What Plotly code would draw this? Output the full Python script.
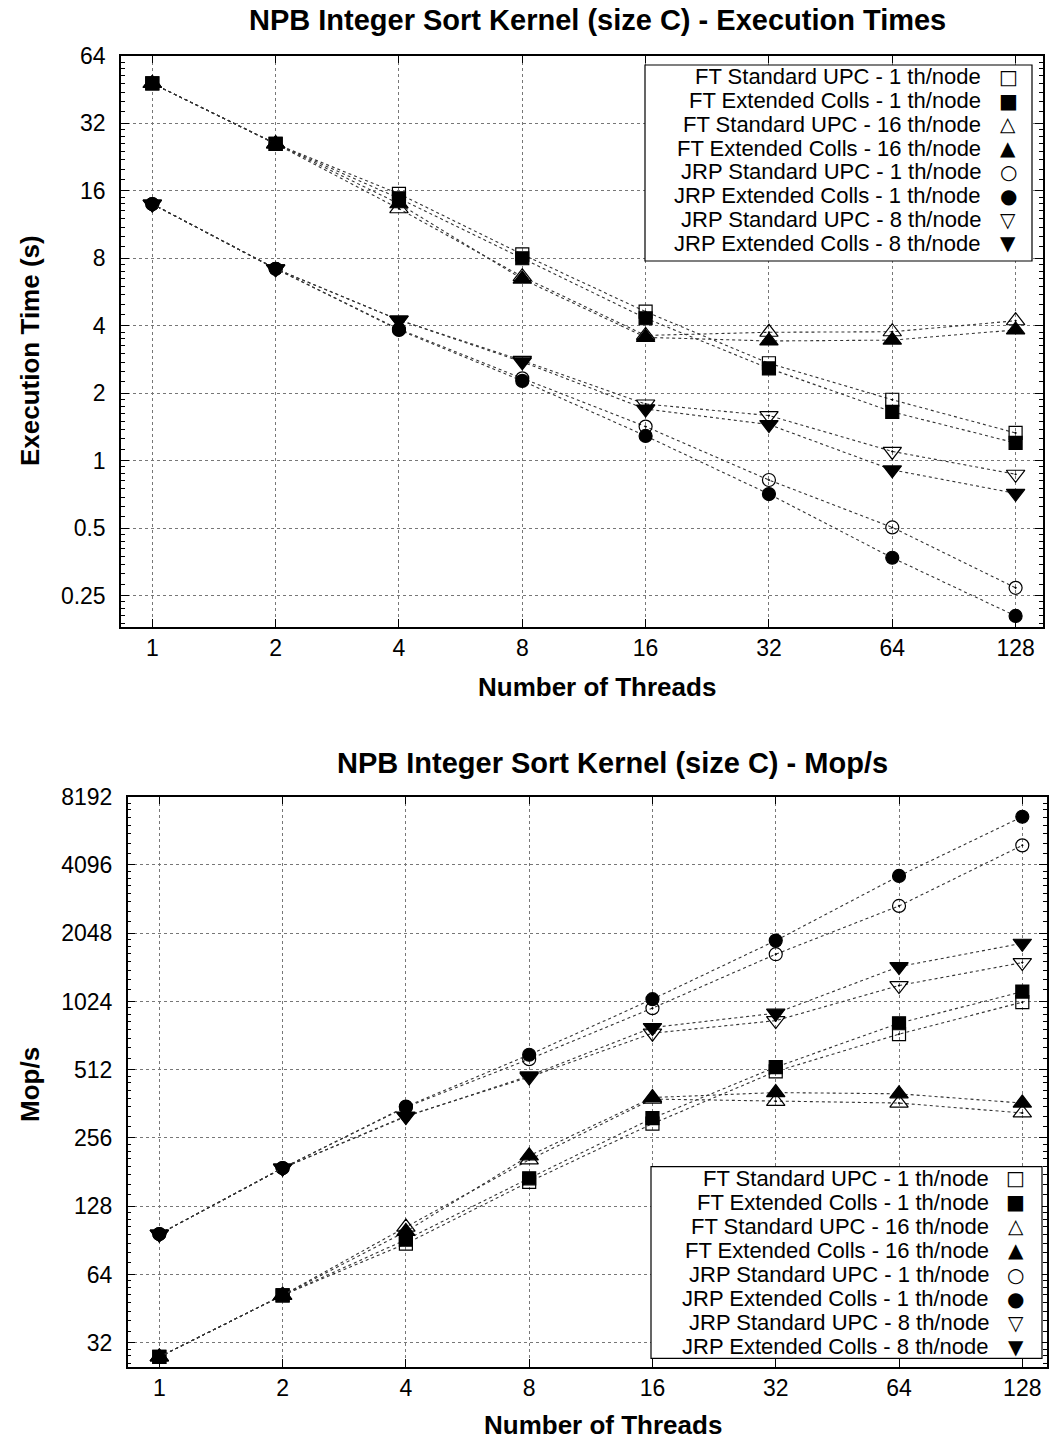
import plotly.graph_objects as go

# ---------------- data ----------------
threads = [1, 2, 4, 8, 16, 32, 64, 128]

series_names = [
    "FT Standard UPC - 1 th/node",
    "FT Extended Colls - 1 th/node",
    "FT Standard UPC - 16 th/node",
    "FT Extended Colls - 16 th/node",
    "JRP Standard UPC - 1 th/node",
    "JRP Extended Colls - 1 th/node",
    "JRP Standard UPC - 8 th/node",
    "JRP Extended Colls - 8 th/node",
]

# Execution times (s)
time_ft_std_1 = [48.2, 25.9, 15.5, 8.33, 4.62, 2.72, 1.87, 1.33]
time_ft_ext_1 = [48.2, 25.9, 14.8, 8.0, 4.32, 2.58, 1.65, 1.20]
time_ft_std_16 = [48.2, 25.9, 13.3, 6.62, 3.62, 3.74, 3.76, 4.21]
time_ft_ext_16 = [48.2, 25.9, 14.0, 6.46, 3.55, 3.42, 3.45, 3.83]
time_jrp_std_1 = [13.96, 7.18, 3.86, 2.33, 1.42, 0.82, 0.504, 0.271]
time_jrp_ext_1 = [13.96, 7.18, 3.83, 2.27, 1.29, 0.71, 0.369, 0.203]
time_jrp_std_8 = [13.96, 7.18, 4.24, 2.80, 1.79, 1.59, 1.10, 0.87]
time_jrp_ext_8 = [13.96, 7.18, 4.24, 2.76, 1.70, 1.45, 0.91, 0.715]

# Mop/s
mops_ft_std_1 = [27.7, 51.8, 87.5, 164, 296, 503, 735, 1017]
mops_ft_ext_1 = [27.7, 51.8, 91.1, 170, 313, 526, 821, 1132]
mops_ft_std_16 = [27.7, 51.8, 103.6, 205, 380, 371, 365, 330]
mops_ft_ext_16 = [27.7, 51.8, 99, 213.6, 386, 406, 401, 365]
mops_jrp_std_1 = [96.5, 188.6, 350, 570, 957, 1655, 2702, 5000]
mops_jrp_ext_1 = [96.5, 188.6, 352, 596, 1048, 1900, 3664, 6686]
mops_jrp_std_8 = [96.5, 188.6, 320, 475, 742, 843, 1204, 1520]
mops_jrp_ext_8 = [96.5, 188.6, 318, 481, 786, 909, 1459, 1850]

x_ticks = [1, 2, 4, 8, 16, 32, 64, 128]
time_ticks = [0.25, 0.5, 1, 2, 4, 8, 16, 32, 64]
time_tick_text = ["0.25", "0.5", "1", "2", "4", "8", "16", "32", "64"]
mops_ticks = [32, 64, 128, 256, 512, 1024, 2048, 4096, 8192]
mops_tick_text = ["32", "64", "128", "256", "512", "1024", "2048", "4096", "8192"]

# ---------------- styling ----------------
W, H = 1049, 1443
FONT = "Liberation Sans, Arial, Helvetica, sans-serif"
symbols = ["square-open-dot", "square", "triangle-up-open-dot", "triangle-up",
           "circle-open-dot", "circle", "triangle-down-open-dot", "triangle-down"]
sizes = [13, 13, 16, 16, 13, 13, 16, 16]
legend_glyphs = ["□", "■", "△", "▲", "○", "●", "▽", "▼"]

time_series = [time_ft_std_1, time_ft_ext_1, time_ft_std_16, time_ft_ext_16,
               time_jrp_std_1, time_jrp_ext_1, time_jrp_std_8, time_jrp_ext_8]
mops_series = [mops_ft_std_1, mops_ft_ext_1, mops_ft_std_16, mops_ft_ext_16,
               mops_jrp_std_1, mops_jrp_ext_1, mops_jrp_std_8, mops_jrp_ext_8]

fig = go.Figure()

for i, name in enumerate(series_names):
    for ys, xa, ya in ((time_series[i], "x", "y"), (mops_series[i], "x2", "y2")):
        fig.add_trace(go.Scatter(
            x=threads, y=ys, name=name, xaxis=xa, yaxis=ya, mode="lines+markers",
            showlegend=False,
            line=dict(color="#333333", width=1.1, dash="dot"),
            marker=dict(symbol=symbols[i], size=sizes[i], color="black",
                        line=dict(color="black", width=1.2)),
        ))


def minor_vals(lo_exp, hi_exp):
    vals = []
    for n in range(lo_exp, hi_exp):
        for j in range(1, 8):
            vals.append(2 ** n * (1 + j / 8))
    return vals


def fy(p):
    return 1 - p / H


def fx(p):
    return p / W


common_axis = dict(
    type="log", showline=True, linecolor="black", linewidth=1.5, mirror="ticks",
    ticks="inside", ticklen=8, tickwidth=1, tickcolor="black", automargin=False,
    showgrid=True, gridcolor="#777777", griddash="dot", gridwidth=1,
    zeroline=False, tickfont=dict(family=FONT, size=23, color="black"),
)

fig.update_layout(
    width=W, height=H, margin=dict(l=0, r=0, t=0, b=0, autoexpand=False),
    paper_bgcolor="white", plot_bgcolor="white",
    xaxis=dict(common_axis, domain=[fx(121), fx(1043)], anchor="y",
               range=[-0.0764, 2.1741], tickmode="array", tickvals=x_ticks,
               ticktext=[str(t) for t in x_ticks]),
    yaxis=dict(common_axis, domain=[fy(627), fy(55.7)], anchor="x",
               range=[-0.7418, 1.8065], tickmode="array", tickvals=time_ticks,
               ticktext=time_tick_text, ticklabelstandoff=9,
               minor=dict(tickmode="array", tickvals=minor_vals(-3, 6), ticks="inside",
                          ticklen=4, tickcolor="black", showgrid=False)),
    xaxis2=dict(common_axis, domain=[fx(127.7), fx(1047)], anchor="y2",
                range=[-0.0772, 2.1675], tickmode="array", tickvals=x_ticks,
                ticktext=[str(t) for t in x_ticks]),
    yaxis2=dict(common_axis, domain=[fy(1367), fy(796.7)], anchor="x2",
                range=[1.398, 3.9136], tickmode="array", tickvals=mops_ticks,
                ticktext=mops_tick_text, ticklabelstandoff=9,
                minor=dict(tickmode="array", tickvals=minor_vals(4, 13), ticks="inside",
                           ticklen=4, tickcolor="black", showgrid=False)),
)

TITLE_FONT = dict(family=FONT, size=29, color="black", weight="bold")
AXIS_TITLE_FONT = dict(family=FONT, size=26, color="black", weight="bold")


def txt(text, x, y, font, angle=0, xanchor="center"):
    return dict(text=text, x=fx(x), y=fy(y), xref="paper", yref="paper",
                xanchor=xanchor, yanchor="middle", showarrow=False, font=font,
                textangle=angle)


annotations = [
    txt("NPB Integer Sort Kernel (size C) - Execution Times", 597, 20, TITLE_FONT),
    txt("NPB Integer Sort Kernel (size C) - Mop/s", 612, 763, TITLE_FONT),
    txt("Number of Threads", 597, 687, AXIS_TITLE_FONT),
    txt("Number of Threads", 603, 1425, AXIS_TITLE_FONT),
    txt("Execution Time (s)", 30, 351, AXIS_TITLE_FONT, angle=-90),
    txt("Mop/s", 30, 1085, AXIS_TITLE_FONT, angle=-90),
]

shapes = []


def add_legend(box, text_right, sym_x, row0, row_step):
    x0, y0, x1, y1 = box
    shapes.append(dict(type="rect", xref="paper", yref="paper",
                       x0=fx(x0), x1=fx(x1), y0=fy(y1), y1=fy(y0),
                       line=dict(color="black", width=1.2), fillcolor="white", layer="above"))
    for i, name in enumerate(series_names):
        yy = row0 + i * row_step
        annotations.append(txt(name, text_right, yy, dict(family=FONT, size=22, color="black"),
                               xanchor="right"))
        annotations.append(txt(legend_glyphs[i], sym_x, yy,
                               dict(family="DejaVu Sans", size=20, color="black")))


add_legend((645, 65, 1032, 261), 983.3, 1008.3, 76.7, 23.8)
add_legend((651, 1166.7, 1042, 1358.3), 990.7, 1015.7, 1178.3, 24.06)

fig.update_layout(annotations=annotations, shapes=shapes)

fig.write_html("out.html", config={"displayModeBar": False},
               post_script="document.body.style.margin='0';")
